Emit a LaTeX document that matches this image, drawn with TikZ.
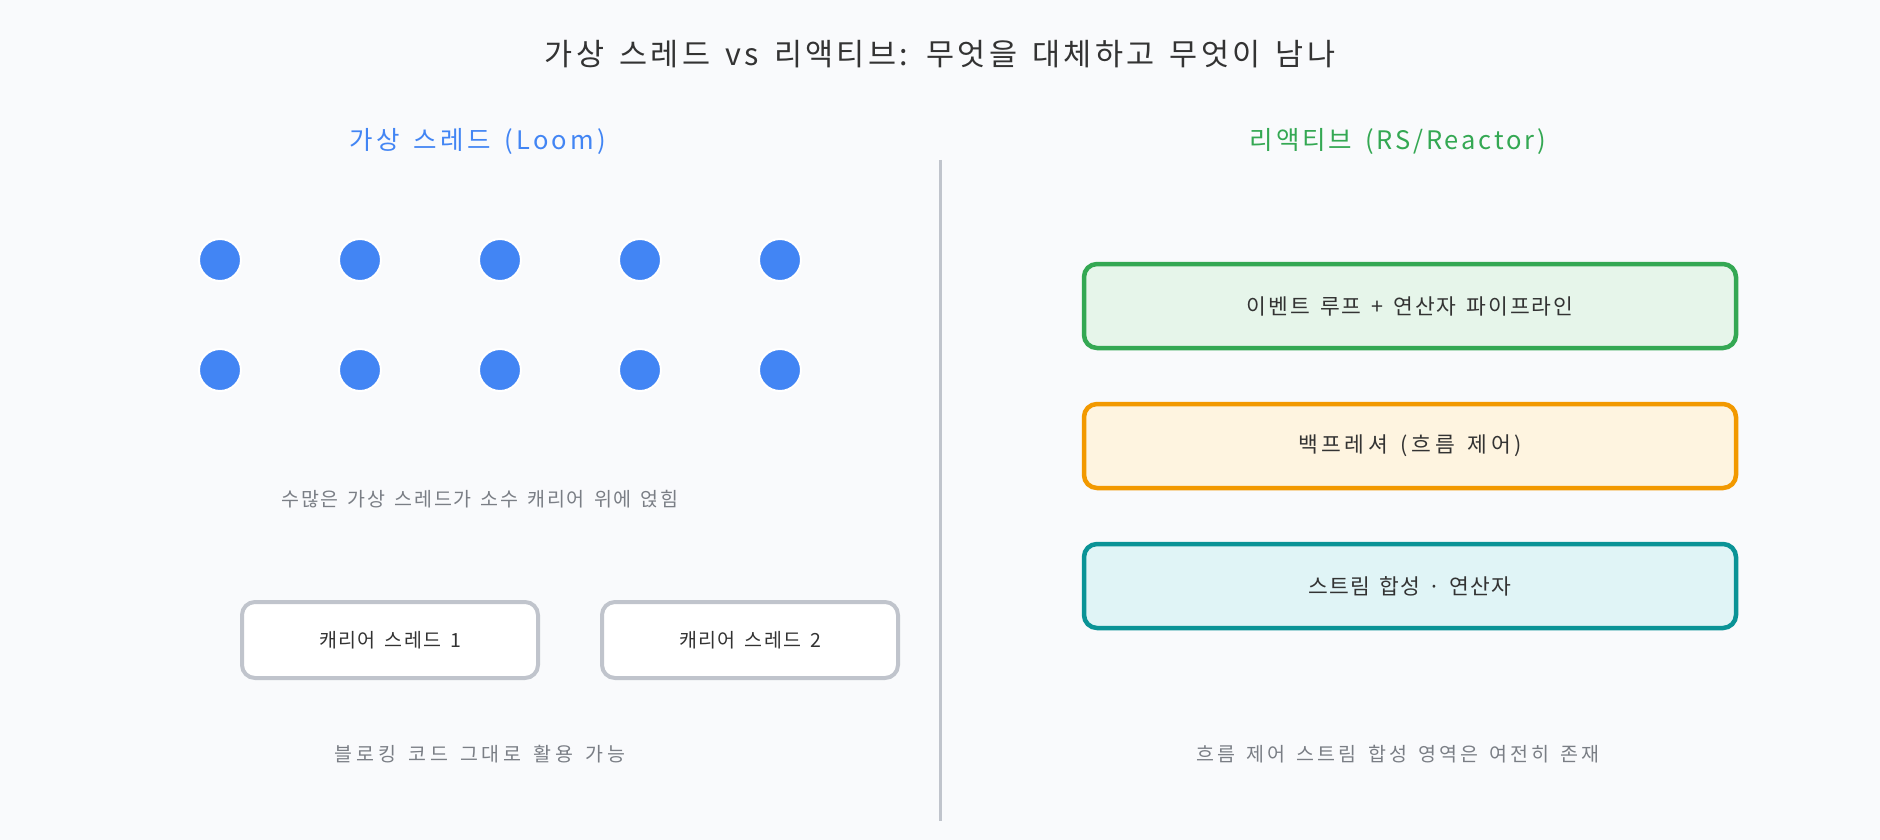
\documentclass[tikz,border=0pt]{standalone}
\usepackage{fontspec}
\setmainfont[WordSpace=1.5]{Noto Sans CJK KR}
\definecolor{bg}{HTML}{F9FAFC}
\definecolor{txt}{HTML}{333333}
\definecolor{cap}{HTML}{7A7E85}
\definecolor{blueT}{HTML}{4285F4}
\definecolor{greenT}{HTML}{34A853}
\definecolor{divc}{HTML}{C0C4CC}
\definecolor{gfill}{HTML}{E6F5EA}
\definecolor{ostroke}{HTML}{F29900}
\definecolor{ofill}{HTML}{FEF4E0}
\definecolor{tstroke}{HTML}{0A9396}
\definecolor{tfill}{HTML}{E0F4F6}
\newcommand{\lsfont}[2]{\fontsize{#1pt}{#1pt}\selectfont\addfontfeatures{LetterSpace=#2}}
\tikzset{
  dotnode/.style={circle, fill=blueT, draw=white, line width=2pt, minimum size=42pt, inner sep=0pt},
  carrier/.style={rectangle, rounded corners=13pt, draw=divc, fill=white, line width=4pt, minimum width=296pt, minimum height=76pt, font=\lsfont{19.5}{7.6}, text=txt},
  rbox/.style={rectangle, rounded corners=13pt, line width=4.5pt, minimum width=652pt, minimum height=84pt, text=txt},
  captext/.style={text=cap},
}
\begin{document}
\begin{tikzpicture}[x=1pt,y=-1pt]
\fill[bg] (0,0) rectangle (1880,840);
\useasboundingbox (0,0) rectangle (1880,840);
\node[font=\lsfont{30.5}{10.8}, text=txt] (title) at (940,54) {가상 스레드 vs 리액티브: 무엇을 대체하고 무엇이 남나};
\node[font=\lsfont{25.5}{13.2}, text=blueT] (lhead) at (478,141) {가상 스레드 (Loom)};
\node[font=\lsfont{25.5}{11.2}, text=greenT] (rhead) at (1398,141) {리액티브 (RS/Reactor)};
\coordinate (divtop) at (940,160);
\coordinate (divbot) at (940,821);
\draw[divc, line width=3pt] (divtop) -- (divbot);
\foreach \i/\x in {1/220,2/360,3/500,4/640,5/780}{
  \node[dotnode] (da\i) at (\x,260) {};
  \node[dotnode] (db\i) at (\x,370) {};
}
\node[captext, font=\lsfont{19.5}{8.9}] (lcap1) at (480,499) {수많은 가상 스레드가 소수 캐리어 위에 얹힘};
\node[carrier] (c1) at (390,640) {캐리어 스레드 1};
\node[carrier] (c2) at (750,640) {캐리어 스레드 2};
\node[captext, font=\lsfont{19.5}{19.2}] (lcap2) at (480,754) {블로킹 코드 그대로 활용 가능};
\node[rbox, draw=greenT, fill=gfill, font=\lsfont{21.5}{8.8}] (r1) at (1410,306) {이벤트 루프 + 연산자 파이프라인};
\node[rbox, draw=ostroke, fill=ofill, font=\lsfont{21.5}{17}] (r2) at (1410,446) {백프레셔 (흐름 제어)};
\node[rbox, draw=tstroke, fill=tfill, font=\lsfont{21.5}{5.5}] (r3) at (1410,586) {스트림 합성 · 연산자};
\node[captext, font=\lsfont{19.5}{15.7}] (rcap) at (1398,754) {흐름 제어 스트림 합성 영역은 여전히 존재};
\end{tikzpicture}
\end{document}
